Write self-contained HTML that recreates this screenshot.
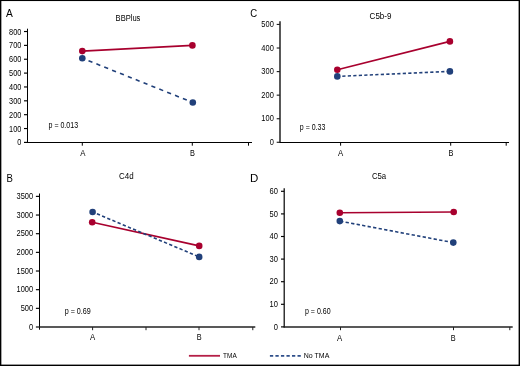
<!DOCTYPE html>
<html><head><meta charset="utf-8"><style>
html,body{margin:0;padding:0;background:#fff;}
body{width:520px;height:366px;overflow:hidden;}
svg{display:block;font-family:"Liberation Sans", sans-serif;will-change:transform;}
</style></head><body>
<svg width="520" height="366" viewBox="0 0 520 366">
<rect width="520" height="366" fill="#fff"/>
<line x1="27.5" y1="28.7" x2="27.5" y2="143.0" stroke="#000" stroke-width="1"/>
<line x1="27.0" y1="142.5" x2="252" y2="142.5" stroke="#000" stroke-width="1.2"/>
<line x1="24.0" y1="142.4" x2="27.5" y2="142.4" stroke="#000" stroke-width="1.15"/>
<text x="21.4" y="145" font-size="8.4" fill="#000" text-anchor="end" textLength="4.1" lengthAdjust="spacingAndGlyphs">0</text>
<line x1="24.0" y1="128.54000000000002" x2="27.5" y2="128.54000000000002" stroke="#000" stroke-width="1.15"/>
<text x="21.4" y="132" font-size="8.4" fill="#000" text-anchor="end" textLength="12.3" lengthAdjust="spacingAndGlyphs">100</text>
<line x1="24.0" y1="114.68" x2="27.5" y2="114.68" stroke="#000" stroke-width="1.15"/>
<text x="21.4" y="118" font-size="8.4" fill="#000" text-anchor="end" textLength="12.3" lengthAdjust="spacingAndGlyphs">200</text>
<line x1="24.0" y1="100.82000000000001" x2="27.5" y2="100.82000000000001" stroke="#000" stroke-width="1.15"/>
<text x="21.4" y="104" font-size="8.4" fill="#000" text-anchor="end" textLength="12.3" lengthAdjust="spacingAndGlyphs">300</text>
<line x1="24.0" y1="86.96000000000001" x2="27.5" y2="86.96000000000001" stroke="#000" stroke-width="1.15"/>
<text x="21.4" y="90" font-size="8.4" fill="#000" text-anchor="end" textLength="12.3" lengthAdjust="spacingAndGlyphs">400</text>
<line x1="24.0" y1="73.10000000000001" x2="27.5" y2="73.10000000000001" stroke="#000" stroke-width="1.15"/>
<text x="21.4" y="76" font-size="8.4" fill="#000" text-anchor="end" textLength="12.3" lengthAdjust="spacingAndGlyphs">500</text>
<line x1="24.0" y1="59.24000000000001" x2="27.5" y2="59.24000000000001" stroke="#000" stroke-width="1.15"/>
<text x="21.4" y="62" font-size="8.4" fill="#000" text-anchor="end" textLength="12.3" lengthAdjust="spacingAndGlyphs">600</text>
<line x1="24.0" y1="45.38000000000001" x2="27.5" y2="45.38000000000001" stroke="#000" stroke-width="1.15"/>
<text x="21.4" y="48" font-size="8.4" fill="#000" text-anchor="end" textLength="12.3" lengthAdjust="spacingAndGlyphs">700</text>
<line x1="24.0" y1="31.52000000000001" x2="27.5" y2="31.52000000000001" stroke="#000" stroke-width="1.15"/>
<text x="21.4" y="35" font-size="8.4" fill="#000" text-anchor="end" textLength="12.3" lengthAdjust="spacingAndGlyphs">800</text>
<line x1="82.3" y1="142.5" x2="82.3" y2="145.7" stroke="#000" stroke-width="1"/>
<line x1="192.3" y1="142.5" x2="192.3" y2="145.7" stroke="#000" stroke-width="1"/>
<line x1="248.5" y1="142.5" x2="248.5" y2="145.7" stroke="#000" stroke-width="1"/>
<text x="80.2" y="156" font-size="8.5" fill="#000" textLength="5.2" lengthAdjust="spacingAndGlyphs">A</text>
<text x="190.1" y="156" font-size="8.5" fill="#000" textLength="4.9" lengthAdjust="spacingAndGlyphs">B</text>
<text x="115.6" y="21" font-size="8.4" fill="#000" textLength="24.8" lengthAdjust="spacingAndGlyphs">BBPlus</text>
<text x="6.1" y="17" font-size="11.5" fill="#000" textLength="6.8" lengthAdjust="spacingAndGlyphs">A</text>
<text x="48.5" y="128" font-size="8.4" fill="#000" textLength="29.6" lengthAdjust="spacingAndGlyphs">p = 0.013</text>
<line x1="82.3" y1="51.1" x2="192.4" y2="45.4" stroke="#a8002e" stroke-width="1.6"/>
<line x1="82.3" y1="58.2" x2="192.8" y2="102.5" stroke="#21407a" stroke-width="1.6" stroke-dasharray="4.2 4.27" stroke-dashoffset="1.76"/>
<circle cx="82.3" cy="51.1" r="3.3" fill="#a8002e"/>
<circle cx="192.4" cy="45.4" r="3.3" fill="#a8002e"/>
<circle cx="82.3" cy="58.2" r="3.3" fill="#21407a"/>
<circle cx="192.8" cy="102.5" r="3.3" fill="#21407a"/>
<line x1="280.0" y1="21.3" x2="280.0" y2="143.0" stroke="#222" stroke-width="1.5"/>
<line x1="279.5" y1="142.5" x2="509" y2="142.5" stroke="#000" stroke-width="1.2"/>
<line x1="276.7" y1="142.3" x2="280.0" y2="142.3" stroke="#222" stroke-width="1.15"/>
<text x="273.8" y="145" font-size="8.4" fill="#000" text-anchor="end" textLength="4.15" lengthAdjust="spacingAndGlyphs">0</text>
<line x1="276.7" y1="118.73000000000002" x2="280.0" y2="118.73000000000002" stroke="#222" stroke-width="1.15"/>
<text x="273.8" y="121" font-size="8.4" fill="#000" text-anchor="end" textLength="12.45" lengthAdjust="spacingAndGlyphs">100</text>
<line x1="276.7" y1="95.16000000000001" x2="280.0" y2="95.16000000000001" stroke="#222" stroke-width="1.15"/>
<text x="273.8" y="98" font-size="8.4" fill="#000" text-anchor="end" textLength="12.45" lengthAdjust="spacingAndGlyphs">200</text>
<line x1="276.7" y1="71.59000000000002" x2="280.0" y2="71.59000000000002" stroke="#222" stroke-width="1.15"/>
<text x="273.8" y="74" font-size="8.4" fill="#000" text-anchor="end" textLength="12.45" lengthAdjust="spacingAndGlyphs">300</text>
<line x1="276.7" y1="48.02000000000001" x2="280.0" y2="48.02000000000001" stroke="#222" stroke-width="1.15"/>
<text x="273.8" y="51" font-size="8.4" fill="#000" text-anchor="end" textLength="12.45" lengthAdjust="spacingAndGlyphs">400</text>
<line x1="276.7" y1="24.450000000000017" x2="280.0" y2="24.450000000000017" stroke="#222" stroke-width="1.15"/>
<text x="273.8" y="27" font-size="8.4" fill="#000" text-anchor="end" textLength="12.45" lengthAdjust="spacingAndGlyphs">500</text>
<line x1="340.6" y1="142.5" x2="340.6" y2="145.7" stroke="#000" stroke-width="1"/>
<line x1="450.7" y1="142.5" x2="450.7" y2="145.7" stroke="#000" stroke-width="1"/>
<line x1="506.2" y1="142.5" x2="506.2" y2="145.7" stroke="#000" stroke-width="1"/>
<text x="338.1" y="156" font-size="8.5" fill="#000" textLength="5.2" lengthAdjust="spacingAndGlyphs">A</text>
<text x="448.6" y="156" font-size="8.5" fill="#000" textLength="4.9" lengthAdjust="spacingAndGlyphs">B</text>
<text x="369.6" y="19" font-size="8.4" fill="#000" textLength="21.9" lengthAdjust="spacingAndGlyphs">C5b-9</text>
<text x="250.2" y="17" font-size="11.5" fill="#000" textLength="6.9" lengthAdjust="spacingAndGlyphs">C</text>
<text x="299.8" y="130" font-size="8.4" fill="#000" textLength="25.5" lengthAdjust="spacingAndGlyphs">p = 0.33</text>
<line x1="337.3" y1="69.7" x2="449.9" y2="41.4" stroke="#a8002e" stroke-width="1.6"/>
<line x1="337.3" y1="76.4" x2="449.9" y2="71.4" stroke="#21407a" stroke-width="1.6" stroke-dasharray="3.2 2.3" stroke-dashoffset="0.5"/>
<circle cx="337.3" cy="69.7" r="3.3" fill="#a8002e"/>
<circle cx="449.9" cy="41.4" r="3.3" fill="#a8002e"/>
<circle cx="337.3" cy="76.4" r="3.3" fill="#21407a"/>
<circle cx="449.9" cy="71.4" r="3.3" fill="#21407a"/>
<line x1="39.5" y1="193.5" x2="39.5" y2="329.7" stroke="#000" stroke-width="1"/>
<line x1="39.0" y1="327.0" x2="255.3" y2="327.0" stroke="#222" stroke-width="1.5"/>
<line x1="35.9" y1="327.0" x2="39.5" y2="327.0" stroke="#000" stroke-width="1.15"/>
<text x="33.1" y="330" font-size="8.4" fill="#000" text-anchor="end" textLength="4.15" lengthAdjust="spacingAndGlyphs">0</text>
<line x1="35.9" y1="308.34" x2="39.5" y2="308.34" stroke="#000" stroke-width="1.15"/>
<text x="33.1" y="311" font-size="8.4" fill="#000" text-anchor="end" textLength="12.45" lengthAdjust="spacingAndGlyphs">500</text>
<line x1="35.9" y1="289.68" x2="39.5" y2="289.68" stroke="#000" stroke-width="1.15"/>
<text x="33.1" y="292" font-size="8.4" fill="#000" text-anchor="end" textLength="16.6" lengthAdjust="spacingAndGlyphs">1000</text>
<line x1="35.9" y1="271.02" x2="39.5" y2="271.02" stroke="#000" stroke-width="1.15"/>
<text x="33.1" y="274" font-size="8.4" fill="#000" text-anchor="end" textLength="16.6" lengthAdjust="spacingAndGlyphs">1500</text>
<line x1="35.9" y1="252.36" x2="39.5" y2="252.36" stroke="#000" stroke-width="1.15"/>
<text x="33.1" y="255" font-size="8.4" fill="#000" text-anchor="end" textLength="16.6" lengthAdjust="spacingAndGlyphs">2000</text>
<line x1="35.9" y1="233.7" x2="39.5" y2="233.7" stroke="#000" stroke-width="1.15"/>
<text x="33.1" y="236" font-size="8.4" fill="#000" text-anchor="end" textLength="16.6" lengthAdjust="spacingAndGlyphs">2500</text>
<line x1="35.9" y1="215.04000000000002" x2="39.5" y2="215.04000000000002" stroke="#000" stroke-width="1.15"/>
<text x="33.1" y="218" font-size="8.4" fill="#000" text-anchor="end" textLength="16.6" lengthAdjust="spacingAndGlyphs">3000</text>
<line x1="35.9" y1="196.38" x2="39.5" y2="196.38" stroke="#000" stroke-width="1.15"/>
<text x="33.1" y="199" font-size="8.4" fill="#000" text-anchor="end" textLength="16.6" lengthAdjust="spacingAndGlyphs">3500</text>
<line x1="92.6" y1="327.0" x2="92.6" y2="330.2" stroke="#222" stroke-width="1"/>
<line x1="146" y1="327.0" x2="146" y2="330.2" stroke="#222" stroke-width="1"/>
<line x1="199.0" y1="327.0" x2="199.0" y2="330.2" stroke="#222" stroke-width="1"/>
<line x1="252.8" y1="327.0" x2="252.8" y2="330.2" stroke="#222" stroke-width="1"/>
<text x="90.1" y="340" font-size="8.5" fill="#000" textLength="5.2" lengthAdjust="spacingAndGlyphs">A</text>
<text x="196.7" y="340" font-size="8.5" fill="#000" textLength="4.9" lengthAdjust="spacingAndGlyphs">B</text>
<text x="119.1" y="179" font-size="8.4" fill="#000" textLength="14.6" lengthAdjust="spacingAndGlyphs">C4d</text>
<text x="6.6" y="182" font-size="11.5" fill="#000" textLength="6.4" lengthAdjust="spacingAndGlyphs">B</text>
<text x="64.7" y="314" font-size="8.4" fill="#000" textLength="26.1" lengthAdjust="spacingAndGlyphs">p = 0.69</text>
<line x1="92.2" y1="222.3" x2="199.2" y2="245.9" stroke="#a8002e" stroke-width="1.6"/>
<line x1="92.6" y1="212.0" x2="199.2" y2="256.9" stroke="#21407a" stroke-width="1.6" stroke-dasharray="3.3 2.3" stroke-dashoffset="0.9"/>
<circle cx="92.2" cy="222.3" r="3.3" fill="#a8002e"/>
<circle cx="199.2" cy="245.9" r="3.3" fill="#a8002e"/>
<circle cx="92.6" cy="212.0" r="3.3" fill="#21407a"/>
<circle cx="199.2" cy="256.9" r="3.3" fill="#21407a"/>
<line x1="284.2" y1="188.3" x2="284.2" y2="327.5" stroke="#000" stroke-width="1.2"/>
<line x1="283.7" y1="327.0" x2="512.7" y2="327.0" stroke="#222" stroke-width="1.5"/>
<line x1="281.0" y1="326.9" x2="284.2" y2="326.9" stroke="#000" stroke-width="1.15"/>
<text x="278.0" y="330" font-size="8.4" fill="#000" text-anchor="end" textLength="4.2" lengthAdjust="spacingAndGlyphs">0</text>
<line x1="281.0" y1="304.29999999999995" x2="284.2" y2="304.29999999999995" stroke="#000" stroke-width="1.15"/>
<text x="278.0" y="307" font-size="8.4" fill="#000" text-anchor="end" textLength="8.4" lengthAdjust="spacingAndGlyphs">10</text>
<line x1="281.0" y1="281.7" x2="284.2" y2="281.7" stroke="#000" stroke-width="1.15"/>
<text x="278.0" y="284" font-size="8.4" fill="#000" text-anchor="end" textLength="8.4" lengthAdjust="spacingAndGlyphs">20</text>
<line x1="281.0" y1="259.09999999999997" x2="284.2" y2="259.09999999999997" stroke="#000" stroke-width="1.15"/>
<text x="278.0" y="262" font-size="8.4" fill="#000" text-anchor="end" textLength="8.4" lengthAdjust="spacingAndGlyphs">30</text>
<line x1="281.0" y1="236.5" x2="284.2" y2="236.5" stroke="#000" stroke-width="1.15"/>
<text x="278.0" y="239" font-size="8.4" fill="#000" text-anchor="end" textLength="8.4" lengthAdjust="spacingAndGlyphs">40</text>
<line x1="281.0" y1="213.89999999999998" x2="284.2" y2="213.89999999999998" stroke="#000" stroke-width="1.15"/>
<text x="278.0" y="217" font-size="8.4" fill="#000" text-anchor="end" textLength="8.4" lengthAdjust="spacingAndGlyphs">50</text>
<line x1="281.0" y1="191.29999999999998" x2="284.2" y2="191.29999999999998" stroke="#000" stroke-width="1.15"/>
<text x="278.0" y="194" font-size="8.4" fill="#000" text-anchor="end" textLength="8.4" lengthAdjust="spacingAndGlyphs">60</text>
<line x1="340.5" y1="327.0" x2="340.5" y2="330.2" stroke="#222" stroke-width="1"/>
<line x1="453.5" y1="327.0" x2="453.5" y2="330.2" stroke="#222" stroke-width="1"/>
<line x1="509.8" y1="327.0" x2="509.8" y2="330.2" stroke="#222" stroke-width="1"/>
<text x="337.1" y="341" font-size="8.5" fill="#000" textLength="5.2" lengthAdjust="spacingAndGlyphs">A</text>
<text x="450.8" y="341" font-size="8.5" fill="#000" textLength="4.9" lengthAdjust="spacingAndGlyphs">B</text>
<text x="371.9" y="179" font-size="8.4" fill="#000" textLength="14.3" lengthAdjust="spacingAndGlyphs">C5a</text>
<text x="250.1" y="182" font-size="11.5" fill="#000">D</text>
<text x="305" y="314" font-size="8.4" fill="#000" textLength="25.6" lengthAdjust="spacingAndGlyphs">p = 0.60</text>
<line x1="339.8" y1="212.7" x2="453.7" y2="212.0" stroke="#a8002e" stroke-width="1.6"/>
<line x1="339.8" y1="221.1" x2="453.3" y2="242.6" stroke="#21407a" stroke-width="1.6" stroke-dasharray="3.3 2.3" stroke-dashoffset="-0.3"/>
<circle cx="339.8" cy="212.7" r="3.3" fill="#a8002e"/>
<circle cx="453.7" cy="212.0" r="3.3" fill="#a8002e"/>
<circle cx="339.8" cy="221.1" r="3.3" fill="#21407a"/>
<circle cx="453.3" cy="242.6" r="3.3" fill="#21407a"/>
<line x1="188.9" y1="355.8" x2="220" y2="355.8" stroke="#b51f47" stroke-width="1.8"/>
<text x="223.1" y="358" font-size="7.4" fill="#000" textLength="13.6" lengthAdjust="spacingAndGlyphs">TMA</text>
<line x1="269.9" y1="355.8" x2="300.8" y2="355.8" stroke="#2f4f8a" stroke-width="1.8" stroke-dasharray="3.3 2.22"/>
<text x="303.8" y="358" font-size="7.4" fill="#000" textLength="25.5" lengthAdjust="spacingAndGlyphs">No TMA</text>
<rect x="0" y="0" width="520" height="1.05" fill="#000"/>
<rect x="0" y="0" width="1.35" height="366" fill="#000"/>
<rect x="518.6" y="0" width="1.4" height="366" fill="#000"/>
<rect x="0" y="364.6" width="520" height="1.4" fill="#000"/>
</svg>
</body></html>
